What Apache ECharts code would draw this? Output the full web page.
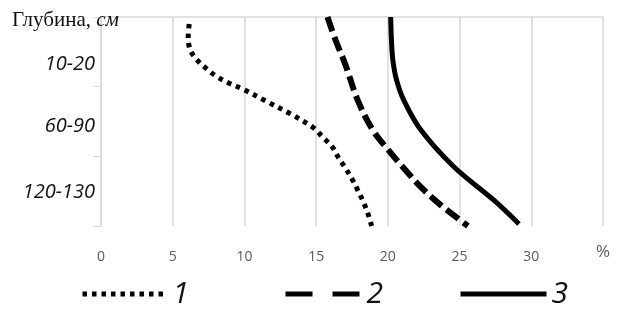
<!DOCTYPE html>
<html><head><meta charset="utf-8">
<script src="https://cdn.jsdelivr.net/npm/echarts@6/dist/echarts.min.js"></script>
<style>html,body{margin:0;padding:0;background:#fff}#c{width:632px;height:313px}</style>
</head><body><div id="c"></div>
<script>
const depthLabels = ['10-20', '60-90', '120-130'];
const xTicks = [0, 5, 10, 15, 20, 25, 30];
const unitLabel = '%';
const seriesNames = ['1', '2', '3'];
// curve 1 (dotted): moisture % and depth position (band units, 0 = top, 3 = bottom)
const s1x = [6.15, 6.08, 6.22, 6.71, 7.41, 8.11, 8.94, 9.85, 11.53, 13.21, 14.81, 15.44, 16.14, 16.56, 17.05, 17.54, 17.89, 18.24, 18.59, 18.87];
const s1y = [0.10, 0.29, 0.47, 0.62, 0.75, 0.86, 0.95, 1.03, 1.21, 1.39, 1.59, 1.72, 1.87, 2.02, 2.17, 2.34, 2.48, 2.63, 2.81, 3.00];
// curve 2 (dashed)
const s2x = [15.79, 16.35, 17.05, 17.89, 18.94, 20.2, 21.24, 22.29, 23.69, 25.58];
const s2y = [0.00, 0.33, 0.69, 1.19, 1.62, 1.95, 2.20, 2.44, 2.70, 3.00];
// curve 3 (solid)
const s3x = [20.2, 20.25, 20.35, 20.6, 21.1, 22.29, 24.6, 27.39, 29.14];
const s3y = [0.00, 0.33, 0.62, 0.90, 1.19, 1.62, 2.15, 2.63, 2.97];

const pairs = (xs, ys) => xs.map((v, i) => [v, ys[i]]);
const chart = echarts.init(document.getElementById('c'), null, {renderer: 'canvas'});
const gray = '#d9d9d9';
const legendDash = [[4.5, 5], [27, 20], 'solid'];
const legendBase = (i, left, w) => ({
  data: [seriesNames[i]], left: left, top: 274, itemWidth: w, itemHeight: 8, itemGap: 0,
  itemStyle: {opacity: 0},
  lineStyle: {width: 5, type: legendDash[i], cap: 'butt'},
  textStyle: {fontFamily: 'Open Sans', fontStyle: 'italic', fontSize: 30, color: '#111', padding: [0, 0, 0, 0]}
});
const lblStyle = {fontFamily: 'Open Sans', fontStyle: 'italic', fontSize: 20, color: '#111'};
chart.setOption({
  animation: false,
  grid: {left: 101, right: 29, top: 17, bottom: 87},
  title: {
    text: '{a|Глубина, }{b|см}', left: 7, top: 5,
    textStyle: {rich: {
      a: {fontFamily: 'Liberation Serif', fontSize: 21, fontWeight: 'normal', color: '#111'},
      b: {fontFamily: 'Liberation Serif', fontSize: 21, fontWeight: 'normal', fontStyle: 'italic', color: '#111'}
    }}
  },
  legend: [legendBase(0, 75, 85), legendBase(1, 278, 76), legendBase(2, 453, 86)],
  xAxis: {
    type: 'value', min: 0, max: 35, interval: 5,
    axisLine: {show: true, lineStyle: {color: gray, width: 1.5}},
    axisTick: {show: true, length: 5, lineStyle: {color: gray}},
    splitLine: {show: true, lineStyle: {color: gray, width: 1.5}},
    axisLabel: {
      margin: 24, color: '#595959', fontFamily: 'Open Sans', fontSize: 14,
      formatter: v => v === 35 ? '{p|' + unitLabel + '}' : (xTicks.includes(v) ? String(v) : ''),
      rich: {p: {fontFamily: 'Open Sans', fontSize: 17, color: '#595959', lineHeight: 4}}
    }
  },
  yAxis: [{
    type: 'category', data: depthLabels, inverse: true, boundaryGap: true,
    axisLine: {show: true, lineStyle: {color: gray, width: 1.5}},
    axisTick: {show: true, length: 8, lineStyle: {color: gray}},
    splitLine: {show: false},
    axisLabel: {
      margin: 6,
      formatter: (v, i) => '{r' + i + '|' + v + '}',
      rich: {
        r0: Object.assign({padding: [24, 0, 0, 0]}, lblStyle),
        r1: Object.assign({padding: [10, 0, 0, 0]}, lblStyle),
        r2: Object.assign({padding: [2, 0, 0, 0]}, lblStyle)
      }
    }
  }, {
    type: 'value', min: 0, max: 3, inverse: true, show: false
  }],
  series: [{
    name: seriesNames[0], type: 'line', yAxisIndex: 1, data: pairs(s1x, s1y), smooth: 0.35,
    symbol: 'none', lineStyle: {color: '#000', width: 5, type: [4.5, 5], cap: 'butt'}
  }, {
    name: seriesNames[1], type: 'line', yAxisIndex: 1, data: pairs(s2x, s2y), smooth: 0.35,
    symbol: 'none', lineStyle: {color: '#000', width: 6, type: [15, 6], cap: 'butt'}
  }, {
    name: seriesNames[2], type: 'line', yAxisIndex: 1, data: pairs(s3x, s3y), smooth: 0.35,
    symbol: 'none', lineStyle: {color: '#000', width: 5}
  }]
});
</script></body></html>
